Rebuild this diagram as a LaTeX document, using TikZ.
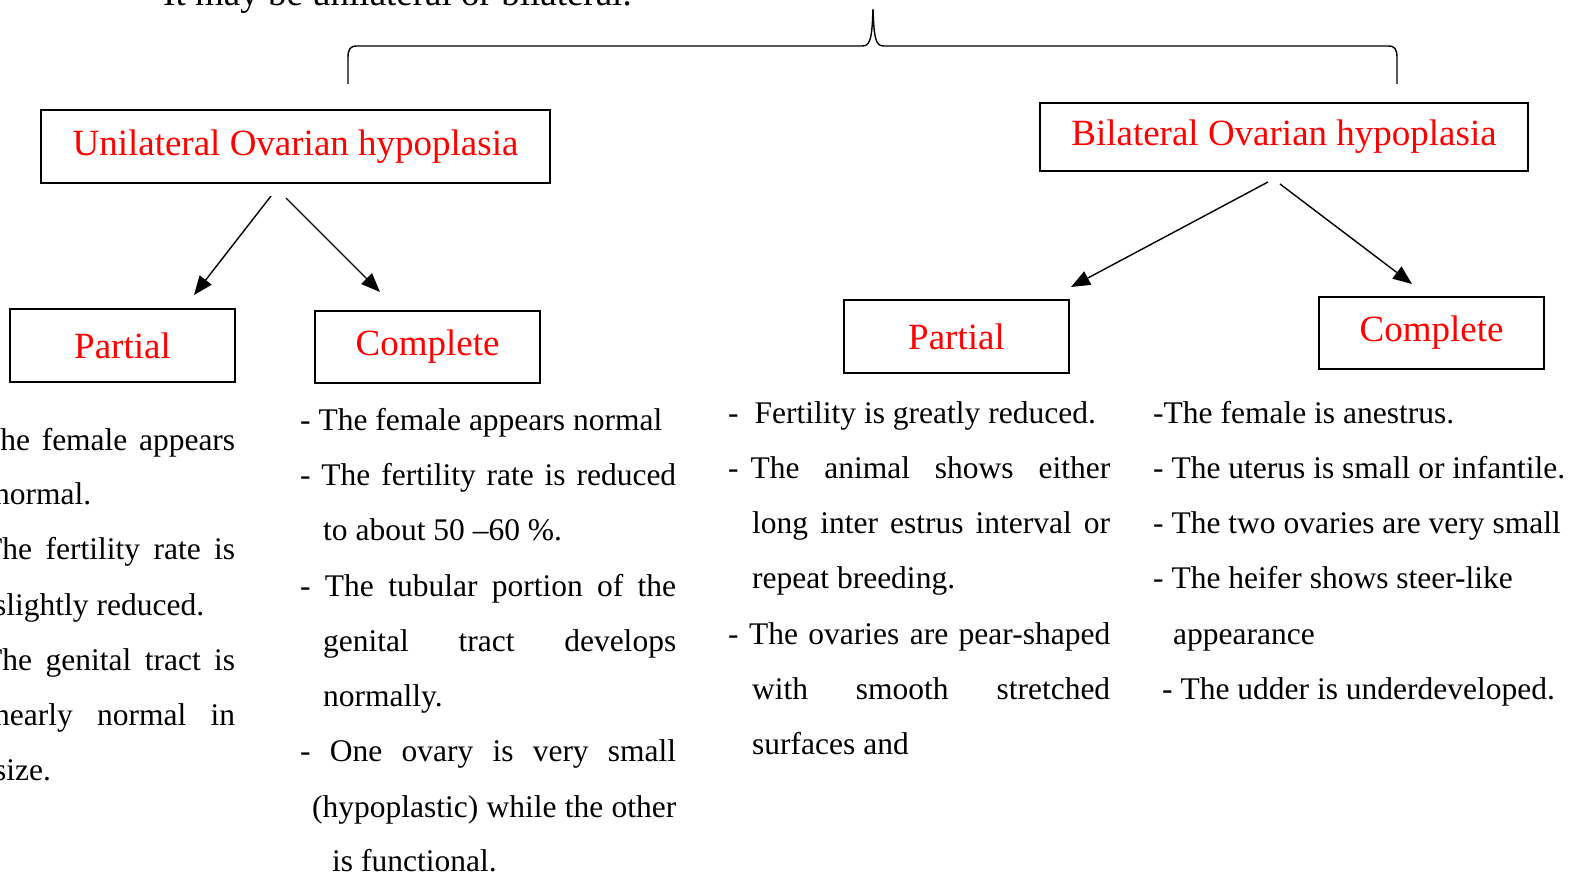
\documentclass[tikz,border=0pt]{standalone}
\usepackage{fontspec}
\setmainfont{Liberation Serif}
\usetikzlibrary{arrows.meta}
\definecolor{lblred}{RGB}{255,0,0}
\newcommand{\jline}[2]{\makebox[#1pt][s]{#2}}
\begin{document}
\begin{tikzpicture}[x=1pt,y=-1pt,
  box/.style={draw, line width=2.6pt, rectangle, inner sep=0pt, text=lblred,
              font=\fontsize{37}{44}\selectfont},
  body/.style={anchor=base west, inner sep=0pt, font=\fontsize{31.5}{38}\selectfont},
  arr/.style={line width=1.4pt, -{Triangle[length=19pt,width=15pt]}},
  brace/.style={line width=1.4pt}]
\useasboundingbox (0,0) rectangle (1569,875);
\clip (0,0) rectangle (1569,875);

% top sentence (cut by the picture's edge)
\node[anchor=base west, inner sep=0pt, font=\fontsize{37}{44}\selectfont] (top) at (163,6) {It may be unilateral or bilateral.};

% brace
\draw[brace] (348,84) -- (348,58) .. controls (348,49) and (350,46) .. (357,46)
  -- (862,46) .. controls (870,46) and (872,40) .. (873,9)
  .. controls (874,40) and (876,46) .. (884,46)
  -- (1388,46) .. controls (1395,46) and (1397,49) .. (1397,58) -- (1397,84);

% boxes
\node[box, minimum width=509pt, minimum height=73pt] (uni) at (295.5,146.5) {Unilateral Ovarian hypoplasia};
\node[box, minimum width=488pt, minimum height=68pt] (bil) at (1284,137) {Bilateral Ovarian hypoplasia};
\node[box, minimum width=225pt, minimum height=73pt] (up) at (122.5,345.5) {Partial};
\node[box, minimum width=225pt, minimum height=72pt] (uc) at (427.5,347) {Complete};
\node[box, minimum width=225pt, minimum height=73pt] (bp) at (956.5,336.5) {Partial};
\node[box, minimum width=225pt, minimum height=72pt] (bc) at (1431.5,333) {Complete};

% arrows
\coordinate (u1) at (271,196);
\coordinate (u1e) at (194,295);
\coordinate (u2) at (286,198);
\coordinate (u2e) at (380,292);
\coordinate (b1) at (1268,182);
\coordinate (b1e) at (1071,287);
\coordinate (b2) at (1280,184);
\coordinate (b2e) at (1412,284);
\draw[arr] (u1) -- (u1e);
\draw[arr] (u2) -- (u2e);
\draw[arr] (b1) -- (b1e);
\draw[arr] (b2) -- (b2e);

% unilateral partial
\node[body] (up1) at (-41,450) {\jline{276}{- The female appears}};
\node[body] (up2) at (-6,504) {normal.};
\node[body] (up3) at (-41,559) {\jline{276}{- The fertility rate is}};
\node[body] (up4) at (-6,615) {slightly reduced.};
\node[body] (up5) at (-41,670) {\jline{276}{- The genital tract is}};
\node[body] (up6) at (-6,725) {\jline{241}{nearly normal in}};
\node[body] (up7) at (-6,780) {size.};

% unilateral complete
\node[body] (uc1) at (300,430) {- The female appears normal};
\node[body] (uc2) at (300,485) {\jline{376}{- The fertility rate is reduced}};
\node[body] (uc3) at (323,540) {to about 50 –60 \%.};
\node[body] (uc4) at (300,596) {\jline{376}{- The tubular portion of the}};
\node[body] (uc5) at (323,651) {\jline{353}{genital tract develops}};
\node[body] (uc6) at (323,706) {normally.};
\node[body] (uc7) at (300,761) {\jline{376}{- One ovary is very small}};
\node[body] (uc8) at (312,817) {\jline{364}{(hypoplastic) while the other}};
\node[body] (uc9) at (332,871) {is functional.};

% bilateral partial
\node[body] (bp1) at (728,423) {-\hspace{16pt}Fertility is greatly reduced.};
\node[body] (bp2) at (728,478) {\jline{382}{-\hspace{12pt}The animal shows either}};
\node[body] (bp3) at (752,533) {\jline{358}{long inter estrus interval or}};
\node[body] (bp4) at (752,588) {repeat breeding.};
\node[body] (bp5) at (728,644) {\jline{382}{- The ovaries are pear-shaped}};
\node[body] (bp6) at (752,699) {\jline{358}{with smooth stretched}};
\node[body] (bp7) at (752,754) {surfaces and};

% bilateral complete
\node[body] (bc1) at (1153,423) {-The female is anestrus.};
\node[body] (bc2) at (1153,478) {- The uterus is small or infantile.};
\node[body] (bc3) at (1153,533) {- The two ovaries are very small};
\node[body] (bc4) at (1153,588) {- The heifer shows steer-like};
\node[body] (bc5) at (1173,644) {appearance};
\node[body] (bc6) at (1162,699) {- The udder is underdeveloped.};
\end{tikzpicture}
\end{document}
